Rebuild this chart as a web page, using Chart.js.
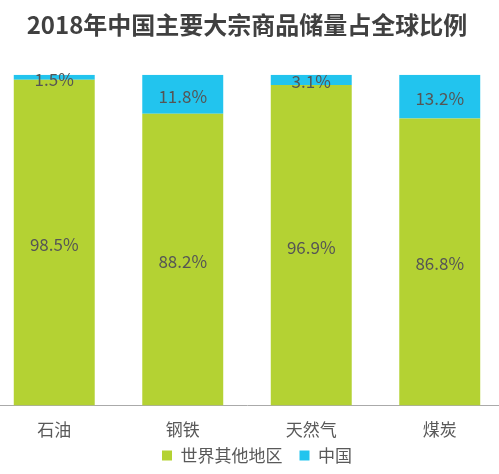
<!DOCTYPE html>
<html>
<head>
<meta charset="utf-8">
<script src="https://cdn.jsdelivr.net/npm/chart.js@4"></script>
<style>
  html, body { margin: 0; padding: 0; background: #fff; overflow: hidden; }
  #wrap { width: 514px; height: 474px; position: relative; margin-left: -10px; }
</style>
</head>
<body>
<div id="wrap"><canvas id="c"></canvas></div>
<script>
const categories = ["石油", "钢铁", "天然气", "煤炭"];
const restOfWorld = [98.5, 88.2, 96.9, 86.8];
const china = [1.5, 11.8, 3.1, 13.2];
const seriesNames = ["世界其他地区", "中国"];

const FONT = "'Noto Sans CJK SC', 'Noto Sans', sans-serif";

// draws the percent text in the middle of each bar segment
const valueLabels = {
    id: "valueLabels",
    afterDatasetsDraw(chart) {
        const ctx = chart.ctx;
        ctx.save();
        ctx.font = "17px " + FONT;
        ctx.fillStyle = "#555555";
        ctx.textAlign = "center";
        ctx.textBaseline = "middle";
        chart.data.datasets.forEach((ds, i) => {
            chart.getDatasetMeta(i).data.forEach((bar, j) => {
                const y = (bar.y + bar.base) / 2;
                ctx.fillText(ds.data[j].toFixed(1) + "%", bar.x, y + 2);
            });
        });
        ctx.restore();
    }
};

// legend sits a bit right of centre in the original
const legendShift = {
    id: "legendShift",
    afterLayout(chart) {
        chart.legend.left += 10;
        chart.legend.right += 10;
    }
};

new Chart(document.getElementById("c"), {
    type: "bar",
    data: {
        labels: categories,
        datasets: [
            { label: seriesNames[0], data: restOfWorld, backgroundColor: "#b4d233" },
            { label: seriesNames[1], data: china, backgroundColor: "#22c4ee" }
        ]
    },
    options: {
        responsive: true,
        maintainAspectRatio: false,
        animation: false,
        layout: { padding: { left: 0, right: 0, top: 0, bottom: 0 } },
        datasets: { bar: { barPercentage: 0.63, categoryPercentage: 1 } },
        scales: {
            x: {
                stacked: true,
                grid: { display: false, drawTicks: false },
                border: { display: true, color: "#aaaaaa", width: 1 },
                ticks: { color: "#595959", font: { family: FONT, size: 17 }, padding: 14 },
                afterFit(scale) { scale.height -= 7; }
            },
            y: {
                stacked: true,
                display: false,
                min: 0,
                max: 100
            }
        },
        plugins: {
            title: {
                display: true,
                text: "2018年中国主要大宗商品储量占全球比例",
                color: "#404040",
                font: { family: FONT, size: 24, weight: "bold" },
                padding: { top: 10, bottom: 36 }
            },
            legend: {
                position: "bottom",
                labels: {
                    color: "#595959",
                    font: { family: FONT, size: 17 },
                    boxWidth: 10,
                    boxHeight: 10,
                    padding: 0,
                    generateLabels(chart) {
                        const items = Chart.defaults.plugins.legend.labels.generateLabels(chart);
                        items.forEach((it, i) => {
                            if (i < items.length - 1) it.text = it.text + "\u3000";
                        });
                        return items;
                    }
                }
            },
            tooltip: { enabled: false }
        }
    },
    plugins: [valueLabels, legendShift]
});
</script>
</body>
</html>
